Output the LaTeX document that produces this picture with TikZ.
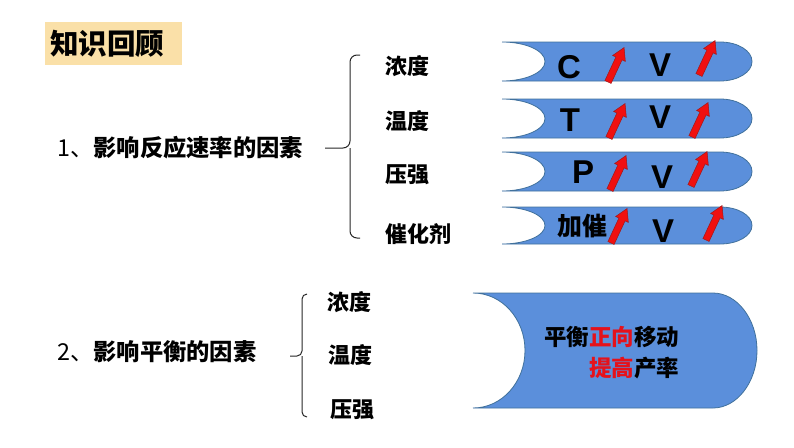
\documentclass[tikz,border=0pt]{standalone}
\usepackage{fontspec}
\setmainfont{Liberation Sans}
\newfontfamily\cjk{Noto Sans CJK SC}
\usetikzlibrary{calc}
\definecolor{titleFill}{HTML}{FAE0A8}
\definecolor{barBlue}{HTML}{5B8FDB}
\definecolor{barEdge}{HTML}{41719C}
\definecolor{upRed}{HTML}{F01010}
\definecolor{upEdge}{HTML}{A01818}
\definecolor{hotRed}{HTML}{E5121B}
\tikzset{
  % one unit is one pixel of the slide
  every picture/.append style = {x=1pt, y=1pt},
  bracket/.style  = {line width=1pt, black!85, rounded corners=7pt},
  barfill/.style  = {fill=barBlue, draw=barEdge, line width=0.8pt},
  lbl/.style      = {font=\cjk\bfseries\fontsize{22}{26}\selectfont, anchor=west, inner sep=0},
  sym/.style      = {font=\bfseries\fontsize{33}{36}\selectfont, inner sep=0},
  riser/.pic      = {\filldraw[fill=upRed, draw=upEdge, line width=0.5pt, rotate=-25]
                       (-3.4,0) -- (-3.4,26) -- (-7,26) -- (0,38) -- (7,26) -- (3.4,26) -- (3.4,0) -- cycle;},
}

\begin{document}
\begin{tikzpicture}
  \useasboundingbox (0,0) rectangle (794,-447);
  % --- heading -------------------------------------------------------------
  \node[fill=titleFill, anchor=north west, text width=127pt, inner xsep=5pt, inner ysep=0,
        minimum height=43pt, font=\cjk\bfseries\fontsize{28.5}{30}\selectfont] (title) at (45,-22) {知识回顾};
  % --- rate factors --------------------------------------------------------
  \node[lbl, font=\cjk\bfseries\fontsize{23.3}{26}\selectfont] (q1) at (57,-148) {\mdseries 1、\bfseries 影响反应速率的因素};
  \coordinate (b1top) at (360,-55);
  \coordinate (b1bot) at (360,-238);
  \coordinate (b1tip) at (325,-148);
  \draw[bracket] (b1top) -| (350,-148) -- (b1tip);
  \draw[bracket] (b1bot) -| (350,-148);
  \node[lbl] (r1) at (385,-66)  {浓度};
  \node[lbl] (r2) at (385,-121) {温度};
  \node[lbl] (r3) at (385,-175) {压强};
  \node[lbl] (r4) at (385,-234) {催化剂};
  % bars with a notch on the left and a round right end
  \foreach \yt/\yb in {42/81, 99/138, 152/191, 207/244}{
    \pgfmathsetmacro\ym{-(\yt+\yb)/2}
    \pgfmathsetmacro\yh{(\yb-\yt)/2*0.55}
    \filldraw[barfill] (502,-\yt) -- (720,-\yt)
      .. controls (738,-\yt) and (752,\ym+\yh) .. (752,\ym)
      .. controls (752,\ym-\yh) and (738,-\yb) .. (720,-\yb) -- (502,-\yb)
      .. controls (526,-\yb) and (545,\ym-\yh) .. (545,\ym)
      .. controls (545,\ym+\yh) and (526,-\yt) .. (502,-\yt) -- cycle;
  }
  \foreach \i/\s/\sx/\sy/\vx/\vy in {1/C/569/67/660/65, 2/T/570/120/660/117, 3/P/583/172/662/177}{
    \node[sym] (cause\i) at (\sx,-\sy) {\s};
    \node[sym] (rate\i) at (\vx,-\vy) {V};
  }
  \node[sym, font=\cjk\bfseries\fontsize{25}{28}\selectfont] (cause4) at (582,-226) {加催};
  \node[sym] (rate4) at (663,-231) {V};
  \foreach \x/\y in {608/82, 699/75, 609/138, 692/137, 610/190, 691/186, 611/243, 706/240}
    \pic at (\x,-\y) {riser};
  % --- equilibrium factors -------------------------------------------------
  \node[lbl, font=\cjk\bfseries\fontsize{23.3}{26}\selectfont] (q2) at (57,-352) {\mdseries 2、\bfseries 影响平衡的因素};
  \coordinate (b2top) at (307,-294);
  \coordinate (b2bot) at (307,-417);
  \coordinate (b2tip) at (290,-356);
  \draw[bracket, rounded corners=5pt] (b2top) -| (302,-356) -- (b2tip);
  \draw[bracket, rounded corners=5pt] (b2bot) -| (302,-356);
  \node[lbl] (e1) at (327,-302) {浓度};
  \node[lbl] (e2) at (328,-355) {温度};
  \node[lbl] (e3) at (330,-410) {压强};
  \filldraw[barfill] (473,-293) -- (713,-293)
    .. controls (737,-293) and (757,-319) .. (757,-350.5)
    .. controls (757,-382) and (737,-408) .. (713,-408) -- (473,-408)
    .. controls (502,-408) and (525,-382) .. (525,-350.5)
    .. controls (525,-319) and (502,-293) .. (473,-293) -- cycle;
  \node[font=\cjk\bfseries\fontsize{22.5}{31}\selectfont, align=right, inner sep=0] (shift) at (611.5,-352.5)
    {平衡\textcolor{hotRed}{正向}移动\\\textcolor{hotRed}{提高}产率};
\end{tikzpicture}
\end{document}
